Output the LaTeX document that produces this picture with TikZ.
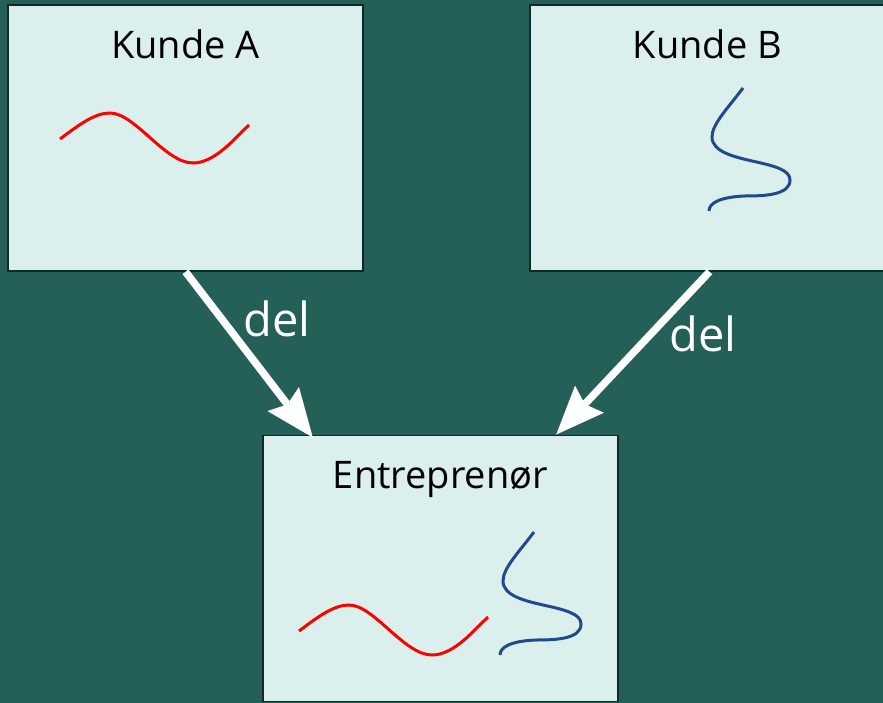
\documentclass[tikz,border=0pt]{standalone}
\usepackage{fontspec}
\setmainfont{Open Sans}
\usepackage{xcolor}
\usepackage{tikz}
\usetikzlibrary{arrows.meta, positioning}
\definecolor{bgteal}{HTML}{245F58}
\definecolor{boxfill}{HTML}{DBEFEC}
\definecolor{boxline}{HTML}{0E2A26}
\definecolor{waveblue}{HTML}{1F4A8C}

\begin{document}
\begin{tikzpicture}[
        x=1pt, y=-1pt,
        box/.style={rectangle, draw=boxline, line width=1.5pt, fill=boxfill, minimum width=355pt, minimum height=266pt, inner sep=0pt},
        title/.style={font=\fontsize{38}{40}\selectfont, text=black, inner sep=0pt, anchor=base},
        lbl/.style={font=\fontsize{47}{50}\selectfont, text=white, inner sep=0pt, anchor=base west},
        arrow/.style={-{Stealth[length=48pt, width=38pt, inset=6pt]}, line width=7.5pt, draw=white},
        wave/.style={line width=3pt},
        redwave/.pic={\draw[wave, red] (0,0) .. controls (20,-15) and (35,-26) .. (50,-26) .. controls (75,-26) and (105,24) .. (133,24) .. controls (155,24) and (175,-1) .. (189,-14);},
        bluewave/.pic={\draw[wave, waveblue] (0,0) .. controls (-15,20) and (-31,36) .. (-31,49) .. controls (-31,64) and (-8,69) .. (9,73) .. controls (32,78) and (47,82) .. (47,92) .. controls (47,107) and (22,108) .. (2,108) .. controls (-23,109) and (-34,115) .. (-34,123);},
        node distance=54pt
    ]
        \fill[bgteal] (0,0) rectangle (883,703);
        \useasboundingbox (0,0) rectangle (883,703);

        \node[box] (kundeA) at (185.5,138) {};
        \node[box] (kundeB) at (707.5,138) {};
        \node[box] (entre) at (440.5,568.5) {};

        \node[title, below=of kundeA.north, anchor=base] (titleA) {Kunde A};
        \node[title, below=of kundeB.north, anchor=base] (titleB) {Kunde B};
        \node[title, below=of entre.north, anchor=base] (titleE) {Entreprenør};

        \pic at (60,139) {redwave};
        \pic at (743,88) {bluewave};
        \pic at (299,631) {redwave};
        \pic at (534,532) {bluewave};

        \draw[arrow] (kundeA.south) -- ([xshift=-127.5pt, yshift=-3pt]entre.north);
        \draw[arrow] ([xshift=2pt]kundeB.south) -- ([xshift=115.5pt]entre.north);

        \node[lbl] (delA) at (243,336) {del};
        \node[lbl] (delB) at (669,351) {del};
    \end{tikzpicture}
\end{document}
